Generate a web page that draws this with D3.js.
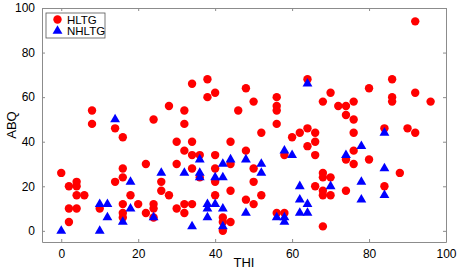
<!DOCTYPE html>
<html>
<head>
<meta charset="utf-8">
<script src="https://cdn.jsdelivr.net/npm/d3@7"></script>
<style>
  body { margin: 0; background: #fff; }
  text { font-family: "Liberation Sans", Arial, Helvetica, sans-serif; }
</style>
</head>
<body>
<svg id="chart"></svg>
<script>
// HLTG: [THI, ABQ]
const hltg = [
  [0,26],[2,20],[4,22],[4,20],[4,16],[6,16],[2,10],[4,10],[2,4],
  [8,54],[8,48],[14,46],[16,42],[24,50],
  [10,10],[14,22],[16,28],[16,24],[18,16],[16,12],[16,8],[16,6],[20,12],[22,30],[22,8],
  [24,12],[24,10],[24,6],[26,22],[26,18],[28,16],
  [28,56],[32,54],[32,48],[34,66],[38,68],[38,60],[40,62],[48,64],[50,58],[46,54],
  [56,60],[56,56],[56,54],[56,48],[52,44],[60,42],[62,44],[64,46],[64,68],
  [30,40],[34,40],[44,40],[32,36],[34,34],[36,34],[40,34],[48,36],[64,38],[58,34],[66,40],
  [30,30],[34,28],[36,24],[44,30],[50,28],[40,28],[40,22],[50,22],[52,16],[48,14],[50,12],
  [44,18],[40,16],[32,12],[32,8],[34,12],[30,10],[42,6],[42,4],[42,0],[44,4],[56,8],[58,8],
  [66,20],[70,62],[68,58],[72,56],[74,56],[76,58],[74,52],[76,50],[80,64],[86,68],[86,60],
  [86,58],[92,62],[96,58],[84,46],[90,46],[92,44],[76,44],[66,44],[66,34],[76,36],[80,32],
  [92,94],[74,32],[76,30],[88,26],[68,26],[68,24],[70,24],[68,18],[68,16],[70,16],[74,18],
  [84,20],[68,2]
];

// NHLTG: [THI, ABQ]
const nhltg = [
  [0,0],[10,0],[10,12],[12,12],[12,6],[18,22],[18,10],[16,4],[24,6],[26,26],[14,50],
  [32,26],[36,26],[36,24],[36,32],[42,30],[44,32],[48,32],[52,30],[52,26],[40,24],[42,24],
  [38,12],[38,10],[40,12],[42,10],[38,6],[42,2],[34,2],[48,8],
  [58,36],[60,34],[56,6],[58,6],[58,4],[62,20],[62,14],[62,8],[64,12],[64,8],[64,66],
  [84,44],[78,38],[74,34],[84,28],[78,22],[78,14],[84,16],[70,20]
];

const xTicks = [0, 20, 40, 60, 80, 100];
const yTicks = [0, 20, 40, 60, 80, 100];
const legendNames = ['HLTG', 'NHLTG'];

const W = 459, H = 271;
const margin = {top: 8, right: 13, bottom: 29, left: 42};
const width = W - margin.left - margin.right;
const height = H - margin.top - margin.bottom;

const svg = d3.select('#chart')
  .attr('width', W)
  .attr('height', H)
  .append('g')
  .attr('transform', `translate(${margin.left}, ${margin.top})`);

const x = d3.scaleLinear().domain([-5, 100]).range([0, width]);
const y = d3.scaleLinear().domain([-5, 100]).range([height, 0]);

const axisColor = '#8c8c8c';

// box-style axes with inward ticks on all sides
const axBottom = svg.append('g')
  .attr('transform', `translate(0, ${height})`)
  .call(d3.axisBottom(x).tickValues(xTicks).tickSizeInner(-3).tickSizeOuter(0).tickPadding(7));
const axLeft = svg.append('g')
  .call(d3.axisLeft(y).tickValues(yTicks).tickSizeInner(-3).tickSizeOuter(0).tickPadding(7));
const axTop = svg.append('g')
  .call(d3.axisTop(x).tickValues(xTicks).tickSizeInner(-3).tickSizeOuter(0).tickFormat(''));
const axRight = svg.append('g')
  .attr('transform', `translate(${width}, 0)`)
  .call(d3.axisRight(y).tickValues(yTicks).tickSizeInner(-3).tickSizeOuter(0).tickFormat(''));

[axBottom, axLeft, axTop, axRight].forEach(g => {
  g.select('.domain').attr('stroke', axisColor).attr('stroke-width', 1);
  g.selectAll('.tick line').attr('stroke', axisColor);
  g.selectAll('.tick text')
    .attr('fill', '#000')
    .style('font-size', '12px')
    .style('font-family', '"Liberation Sans", Arial, sans-serif');
});

svg.append('text')
  .attr('x', width / 2)
  .attr('y', height + 25)
  .attr('text-anchor', 'middle')
  .style('font-size', '13px')
  .text('THI');

svg.append('text')
  .attr('transform', 'rotate(-90)')
  .attr('x', -height / 2)
  .attr('y', -26)
  .attr('text-anchor', 'middle')
  .style('font-size', '13px')
  .text('ABQ');

svg.selectAll('.hltg')
  .data(hltg)
  .enter()
  .append('circle')
  .attr('class', 'hltg')
  .attr('cx', d => x(d[0]))
  .attr('cy', d => y(d[1]))
  .attr('r', 4.2)
  .attr('fill', '#ff0000');

const tri = d3.symbol().type(d3.symbolTriangle).size(42);

svg.selectAll('.nhltg')
  .data(nhltg)
  .enter()
  .append('path')
  .attr('class', 'nhltg')
  .attr('transform', d => `translate(${x(d[0])}, ${y(d[1])})`)
  .attr('d', tri)
  .attr('fill', '#0000ff');

// legend
const legend = svg.append('g').attr('transform', 'translate(4, 5)');
legend.append('rect')
  .attr('width', 59)
  .attr('height', 25)
  .attr('fill', '#fff')
  .attr('stroke', '#555')
  .attr('stroke-width', 0.8);

legendNames.forEach((name, i) => {
  const cy = 6.5 + i * 11.5;
  if (i === 0) {
    legend.append('circle').attr('cx', 11.5).attr('cy', cy).attr('r', 4.2).attr('fill', '#ff0000');
  } else {
    legend.append('path').attr('transform', `translate(11.5, ${cy})`).attr('d', tri).attr('fill', '#0000ff');
  }
  legend.append('text')
    .attr('x', 21)
    .attr('y', cy + 4)
    .style('font-size', '11.5px')
    .text(name);
});
</script>
</body>
</html>
